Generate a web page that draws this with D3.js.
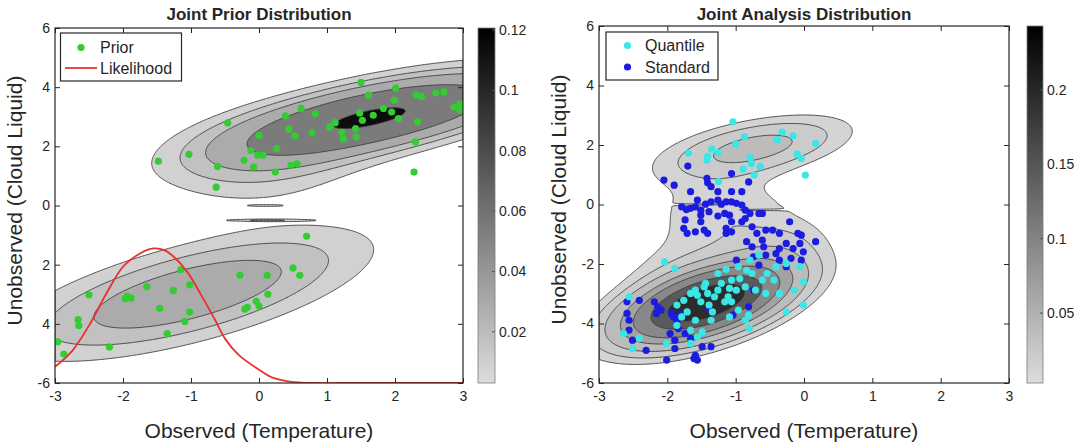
<!DOCTYPE html>
<html lang="en">
<head>
<meta charset="utf-8">
<title>Joint Prior / Analysis Distribution</title>
<style>
  body { margin: 0; background: #fff; }
  svg text { font-family: "Liberation Sans", Arial, sans-serif; fill: #262626; }
  .title { font-size: 17px; font-weight: bold; }
  .axis-label { font-size: 21px; }
  .tick text { font-size: 14px; fill: #262626; }
  .tick line { stroke: #262626; }
  .cb-label { font-size: 14px; }
  .legend-text { font-size: 16px; }
</style>
<script src="https://cdn.jsdelivr.net/npm/d3@7"></script>
</head>
<body>
<svg id="chart" width="1081" height="444"></svg>
<script>
// ---------- data ----------
var xTicks = [-3, -2, -1, 0, 1, 2, 3];
var yTicks = [-6, -4, -2, 0, 2, 4, 6];
var priorYTickLabels = ["-6", "4", "2", "0", "2", "4", "6"];   // minus signs missing in the original
var analysisYTickLabels = ["-6", "-4", "-2", "0", "2", "4", "6"];

// contour levels and colour-bar ranges
var priorLevels = [0.0088, 0.0174, 0.029, 0.055, 0.114];
var analysisLevels = [0.012, 0.022, 0.038, 0.065, 0.095, 0.145, 0.195];
var priorColorRange = [0.003, 0.1207];
var analysisColorRange = [0.003, 0.243];
var priorCbTicks = [0.02, 0.04, 0.06, 0.08, 0.1, 0.12];
var analysisCbTicks = [0.05, 0.1, 0.15, 0.2];

// density shape: gaussian bumps (centre, spread, correlation, peak height)
var priorBumps = [
  {mx: 1.7, my: 3.0, sx: 1.3, sy: 0.866, rho: 0.661, w: 0.12},
  {mx: 0.1, my: 1.5, sx: 1.0, sy: 1.0, rho: 0.25, w: 0.017},
  {mx: -1.05, my: -3.0, sx: 1.53, sy: 1.27, rho: 0.662, w: 0.0435},
  {mx: 0.1, my: -0.5, sx: 0.35, sy: 0.02, rho: 0, w: 0.0155},
  {mx: 0.1, my: 0.0, sx: 0.15, sy: 0.015, rho: 0, w: 0.0125}
];
var analysisBumps = [
  {mx: -1.43, my: -3.3, sx: 0.76, sy: 0.84, rho: 0.55, w: 0.255},
  {mx: -0.35, my: -1.3, sx: 0.5, sy: 0.6, rho: 0.3, w: 0.012},
  {mx: -2.0, my: -1.8, sx: 0.6, sy: 0.7, rho: 0.5, w: 0.009},
  {mx: -0.72, my: 1.91, sx: 0.87, sy: 0.67, rho: 0.5, w: 0.046},
  {mx: -1.15, my: -0.3, sx: 0.75, sy: 0.9, rho: 0.0, w: 0.02},
  {mx: -1.35, my: 0.0, sx: 0.35, sy: 0.02, rho: 0, w: -0.01},
  {mx: -0.8, my: -0.18, sx: 0.35, sy: 0.02, rho: 0, w: -0.01}
];

var priorPoints = [
  [-0.46,2.79],[-1.03,1.73],[-1.48,1.50],[-0.61,1.32],[-0.63,0.62],[-0.22,1.53],[-0.08,1.30],[-0.12,1.86],
  [0.00,2.37],[-0.02,1.70],[0.06,1.70],[0.24,1.13],[0.26,1.92],[0.39,3.03],[0.44,2.58],[0.53,2.35],
  [0.56,1.41],[0.47,1.36],[0.62,3.28],[0.78,2.46],[0.83,3.10],[1.04,2.65],[1.12,2.80],[1.22,2.47],
  [1.24,2.25],[1.43,2.32],[1.42,2.60],[1.48,3.12],[1.50,4.16],[1.61,3.73],[1.68,3.05],[1.52,2.88],
  [1.83,3.28],[1.95,3.16],[1.99,3.56],[2.01,3.97],[2.05,2.94],[2.31,3.74],[2.39,3.68],[2.33,2.83],
  [2.30,2.15],[2.28,1.13],[2.60,3.80],[2.72,3.84],[2.87,3.33],[2.96,3.44],[2.96,3.22],
  [0.70,-1.04],[0.50,-2.11],[0.60,-2.36],[0.12,-2.36],[-0.28,-2.36],[0.13,-3.00],[-0.04,-3.24],[0.00,-3.40],
  [-0.17,-3.44],[-0.21,-3.50],[-1.15,-2.17],[-1.02,-2.68],[-1.26,-2.87],[-1.65,-2.74],[-1.88,-3.13],[-1.94,-3.06],
  [-2.50,-3.02],[-1.46,-3.48],[-1.02,-3.60],[-1.09,-3.92],[-1.35,-4.33],[-2.20,-4.78],[-2.66,-3.86],[-2.65,-4.06],
  [-2.96,-4.61],[-2.87,-5.02],[-1.97,-3.15]
];

var likelihoodX = [-3, -2.75, -2.5, -2.25, -2, -1.75, -1.55, -1.4, -1.25, -1.05, -0.85, -0.65, -0.5, -0.3, 0, 0.2, 0.45, 0.8, 1.2, 2, 3];
var likelihoodY = [-5.45, -4.92, -4.06, -3.0, -2.07, -1.62, -1.45, -1.5, -1.74, -2.26, -3.03, -3.85, -4.5, -5.05, -5.55, -5.82, -5.95, -6.0, -6.0, -6.0, -6.0];

var quantilePoints = [
  [-1.04,2.78],[-0.87,2.28],[-1.00,2.04],[-1.26,1.74],[-1.41,1.62],[-1.69,1.73],[-1.42,1.49],[-1.25,0.77],
  [-0.79,1.58],[-0.77,1.38],[-0.89,1.19],[-0.64,1.27],[-0.73,0.99],[-0.39,2.18],[-0.32,2.43],[-0.16,2.31],
  [-0.10,1.69],[-0.04,1.55],[0.02,0.99],[0.17,2.05],[-1.35,1.86],
  [-2.04,-1.93],[-1.89,-2.15],[-2.56,-3.10],[-2.64,-4.34],[-2.51,-4.84],[-2.41,-4.50],[-2.01,-4.67],[-1.86,-3.38],
  [-1.76,-3.22],[-1.66,-2.99],[-1.59,-2.88],[-1.56,-3.05],[-1.51,-3.27],[-1.46,-2.77],[-1.41,-2.99],[-1.39,-3.38],
  [-1.34,-3.61],[-1.31,-3.10],[-1.26,-2.88],[-1.21,-2.65],[-1.16,-3.27],[-1.11,-3.10],[-1.09,-2.82],[-1.06,-2.54],
  [-1.06,-3.27],[-0.99,-2.88],[-0.96,-2.09],[-0.94,-2.49],[-0.86,-2.77],[-0.84,-2.21],[-0.79,-1.87],[-0.76,-2.32],
  [-0.71,-2.88],[-0.66,-1.70],[-0.61,-2.54],[-0.56,-2.99],[-0.54,-2.32],[-0.86,-3.89],[-0.80,-4.17],[-0.81,-3.72],
  [-0.96,-3.55],[-1.09,-3.78],[-1.36,-3.89],[-1.49,-4.28],[-1.56,-4.45],[-1.66,-4.67],[-1.59,-3.89],[-1.71,-3.61],
  [-1.86,-4.06],[-1.79,-3.78],[-1.66,-4.22],[-1.44,-2.65],[-1.26,-2.32],[-1.14,-2.18],[-0.26,-3.61],[-0.14,-2.88],
  [-0.01,-2.60],[-0.01,-3.38],[-0.06,-2.09],[-0.26,-1.98],[-0.41,-2.09],[-0.44,-2.54],[-0.36,-2.99]
];

var standardPoints = [
  [-2.05,0.82],[-1.90,0.65],[-1.70,1.29],[-1.42,0.88],[-1.41,0.73],[-1.36,0.60],[-1.26,0.43],[-1.06,1.04],
  [-1.06,0.43],[-0.91,0.43],[-0.81,0.76],[-1.66,0.43],[-1.79,-0.08],[-1.72,-0.17],[-1.66,-0.13],[-1.59,-0.08],
  [-1.56,0.15],[-1.51,-0.19],[-1.44,0.01],[-1.36,0.09],[-1.26,0.15],[-1.21,0.01],[-1.14,0.09],[-1.06,0.09],
  [-0.99,0.04],[-0.91,-0.02],[-0.86,-0.19],[-0.79,-0.30],[-0.66,-0.30],[-0.61,-0.30],[-1.74,-0.52],[-1.51,-0.36],
  [-1.39,-0.24],[-1.26,-0.39],[-1.16,-0.30],[-1.09,-0.36],[-1.06,-0.58],[-0.91,-0.58],[-0.86,-0.47],[-1.71,-0.97],
  [-1.51,-0.58],[-1.59,-0.92],[-1.46,-0.86],[-1.41,-0.97],[-1.14,-0.80],[-1.14,-0.97],[-1.06,-0.92],[-0.76,-0.75],
  [-0.69,-0.97],[-0.56,-0.86],[-0.46,-0.86],[-0.36,-0.97],[-0.21,-0.58],[-0.09,-0.97],[-0.04,-1.03],[-1.76,-0.80],
  [-0.84,-1.25],[-0.76,-1.42],[-0.61,-1.20],[-0.59,-1.42],[-0.36,-1.48],[-0.26,-1.31],[-0.16,-1.48],[-0.06,-1.31],
  [-0.01,-1.59],[0.17,-1.25],[-0.19,-1.81],[-0.04,-1.87],[-0.74,-1.76],[-0.66,-2.04],[-0.99,-1.87],[-0.56,-1.70],
  [-0.41,-1.65],[-0.26,-2.09],
  [-2.59,-3.27],[-2.41,-3.22],[-2.59,-3.66],[-2.56,-3.89],[-2.56,-4.22],[-2.51,-4.56],[-2.31,-4.90],[-2.01,-5.23],
  [-1.89,-4.84],[-1.89,-4.56],[-1.96,-4.34],[-2.19,-3.27],[-2.14,-3.44],[-2.09,-3.55],[-2.16,-3.66],[-1.94,-3.66],
  [-1.91,-3.78],[-1.81,-3.72],[-1.86,-3.94],[-1.84,-4.17],[-1.74,-4.34],[-1.66,-4.50],[-1.59,-5.07],[-1.56,-5.23],
  [-1.61,-5.18],[-1.49,-4.78],[-1.36,-4.78],[-1.39,-3.50],[-1.04,-3.72],[-0.81,-3.44],[-0.74,-2.88],[-0.36,-1.87]
];

// ---------- drawing ----------
var svg = d3.select("#chart");
var ink = "#262626";

// sample the density on a grid over the plotting window
function densityGrid(bumps, n, m) {
  var values = new Float64Array(n * m);
  for (var j = 0; j < m; j++) {
    var y = 6 - (j + 0.5) * 12 / m;
    for (var i = 0; i < n; i++) {
      var x = -3 + (i + 0.5) * 6 / n;
      var v = 0;
      bumps.forEach(function(c) {
        var dx = (x - c.mx) / c.sx, dy = (y - c.my) / c.sy;
        var q = (dx * dx - 2 * c.rho * dx * dy + dy * dy) / (1 - c.rho * c.rho);
        v += c.w * Math.exp(-q / 2);
      });
      values[j * n + i] = v;
    }
  }
  return values;
}

function drawPanel(p) {
  var x = d3.scaleLinear().domain([-3, 3]).range([p.left, p.right]);
  var y = d3.scaleLinear().domain([-6, 6]).range([p.bottom, p.top]);
  var color = d3.scaleLinear().domain(p.colorRange).range(["#dcdcdc", "#000000"]).clamp(true);

  var clipId = "clip-" + p.id;
  svg.append("clipPath").attr("id", clipId)
    .append("rect").attr("x", p.left).attr("y", p.top)
    .attr("width", p.right - p.left).attr("height", p.bottom - p.top);

  var g = svg.append("g").attr("clip-path", "url(#" + clipId + ")");

  // filled contours
  var n = 300, m = 600;
  var grid = densityGrid(p.bumps, n, m);
  var contours = d3.contours().size([n, m]).thresholds(p.levels)(grid);
  var path = d3.geoPath(d3.geoTransform({
    point: function(gx, gy) { this.stream.point(x(-3 + gx * 6 / n), y(6 - gy * 12 / m)); }
  }));
  g.selectAll("path.band")
    .data(contours)
    .enter().append("path")
      .attr("class", "band")
      .attr("d", path)
      .attr("fill", function(d) { return color(d.value); })
      .attr("stroke", "#3a3a3a")
      .attr("stroke-width", 0.9)
      .attr("stroke-linejoin", "round");

  if (p.drawMarks) p.drawMarks(g, x, y);

  // axes with inward ticks on all four sides
  var fmtY = function(d, i) { return p.yLabels[i]; };
  svg.append("g").attr("class", "axis")
    .attr("transform", "translate(0," + p.bottom + ")")
    .call(d3.axisBottom(x).tickValues(xTicks).tickSizeInner(-5).tickSizeOuter(0).tickPadding(8)
      .tickFormat(function(d) { return String(d); }));
  svg.append("g").attr("class", "axis")
    .attr("transform", "translate(0," + p.top + ")")
    .call(d3.axisTop(x).tickValues(xTicks).tickSizeInner(-5).tickSizeOuter(0).tickFormat(""));
  svg.append("g").attr("class", "axis")
    .attr("transform", "translate(" + p.left + ",0)")
    .call(d3.axisLeft(y).tickValues(yTicks).tickSizeInner(-5).tickSizeOuter(0).tickPadding(5).tickFormat(fmtY));
  svg.append("g").attr("class", "axis")
    .attr("transform", "translate(" + p.right + ",0)")
    .call(d3.axisRight(y).tickValues(yTicks).tickSizeInner(-5).tickSizeOuter(0).tickFormat(""));
  svg.selectAll(".axis .domain").remove();

  svg.append("rect")
    .attr("x", p.left).attr("y", p.top)
    .attr("width", p.right - p.left).attr("height", p.bottom - p.top)
    .attr("fill", "none").attr("stroke", ink).attr("stroke-width", 1.2);

  // title and axis labels
  svg.append("text").attr("class", "title")
    .attr("x", (p.left + p.right) / 2).attr("y", 20)
    .attr("text-anchor", "middle").text(p.title);
  svg.append("text").attr("class", "axis-label")
    .attr("x", (p.left + p.right) / 2).attr("y", 438)
    .attr("text-anchor", "middle").text("Observed (Temperature)");
  svg.append("text").attr("class", "axis-label")
    .attr("transform", "translate(" + (p.left - 33) + "," + ((p.top + p.bottom) / 2 - 5) + ") rotate(-90)")
    .attr("text-anchor", "middle").text("Unobserved (Cloud Liquid)");

  // colour bar
  var cb = svg.append("g");
  var cy = d3.scaleLinear().domain(p.colorRange).range([p.bottom, p.top]);
  var gradId = "grad-" + p.id;
  var grad = svg.append("defs").append("linearGradient").attr("id", gradId)
    .attr("x1", 0).attr("y1", 1).attr("x2", 0).attr("y2", 0);
  grad.append("stop").attr("offset", 0).attr("stop-color", color(p.colorRange[0]));
  grad.append("stop").attr("offset", 1).attr("stop-color", color(p.colorRange[1]));
  cb.append("rect")
    .attr("x", p.cbX).attr("y", p.top).attr("width", p.cbW).attr("height", p.bottom - p.top)
    .attr("fill", "url(#" + gradId + ")").attr("stroke", "#7a7a7a").attr("stroke-width", 0.8);
  cb.selectAll("line.cbtick").data(p.cbTicks).enter().append("line")
    .attr("x1", p.cbX + p.cbW - 3).attr("x2", p.cbX + p.cbW)
    .attr("y1", function(d) { return cy(d); }).attr("y2", function(d) { return cy(d); })
    .attr("stroke", "#555");
  cb.selectAll("text").data(p.cbTicks).enter().append("text")
    .attr("class", "cb-label")
    .attr("x", p.cbX + p.cbW + 4).attr("y", function(d) { return cy(d) + 5; })
    .text(function(d) { return d; });
}

function legendBox(x0, y0, w, h) {
  svg.append("rect").attr("x", x0).attr("y", y0).attr("width", w).attr("height", h)
    .attr("fill", "#fff").attr("stroke", ink).attr("stroke-width", 1.2);
}

// left panel: prior
drawPanel({
  id: "prior", title: "Joint Prior Distribution",
  left: 55, right: 463, top: 28, bottom: 383, cbX: 478, cbW: 17,
  levels: priorLevels, colorRange: priorColorRange, cbTicks: priorCbTicks,
  bumps: priorBumps, yLabels: priorYTickLabels,
  drawMarks: function(g, x, y) {
    g.selectAll("circle.prior").data(priorPoints).enter().append("circle")
      .attr("class", "prior")
      .attr("cx", function(d) { return x(d[0]); })
      .attr("cy", function(d) { return y(d[1]); })
      .attr("r", 3.6).attr("fill", "#33cc33");
    var line = d3.line()
      .x(function(d, i) { return x(likelihoodX[i]); })
      .y(function(d) { return y(d); })
      .curve(d3.curveCatmullRom.alpha(0.5));
    g.append("path").datum(likelihoodY)
      .attr("d", line).attr("fill", "none")
      .attr("stroke", "#e8312f").attr("stroke-width", 1.8);
  }
});

legendBox(60.5, 33, 121, 48);
svg.append("circle").attr("cx", 81).attr("cy", 47.5).attr("r", 3.6).attr("fill", "#33cc33");
svg.append("text").attr("class", "legend-text").attr("x", 100).attr("y", 53).text("Prior");
svg.append("line").attr("x1", 65).attr("x2", 97).attr("y1", 68).attr("y2", 68)
  .attr("stroke", "#e8312f").attr("stroke-width", 1.8);
svg.append("text").attr("class", "legend-text").attr("x", 100).attr("y", 74).text("Likelihood");

// right panel: analysis
drawPanel({
  id: "analysis", title: "Joint Analysis Distribution",
  left: 599, right: 1009, top: 26, bottom: 383, cbX: 1027, cbW: 16,
  levels: analysisLevels, colorRange: analysisColorRange, cbTicks: analysisCbTicks,
  bumps: analysisBumps, yLabels: analysisYTickLabels,
  drawMarks: function(g, x, y) {
    g.selectAll("circle.std").data(standardPoints).enter().append("circle")
      .attr("class", "std")
      .attr("cx", function(d) { return x(d[0]); })
      .attr("cy", function(d) { return y(d[1]); })
      .attr("r", 3.6).attr("fill", "#1c1ce0");
    g.selectAll("circle.qnt").data(quantilePoints).enter().append("circle")
      .attr("class", "qnt")
      .attr("cx", function(d) { return x(d[0]); })
      .attr("cy", function(d) { return y(d[1]); })
      .attr("r", 3.6).attr("fill", "#3ae6e6");
  }
});

legendBox(606, 32, 112, 48);
svg.append("circle").attr("cx", 627.5).attr("cy", 45.5).attr("r", 3.6).attr("fill", "#3ae6e6");
svg.append("text").attr("class", "legend-text").attr("x", 645).attr("y", 51).text("Quantile");
svg.append("circle").attr("cx", 627.5).attr("cy", 67).attr("r", 3.6).attr("fill", "#1c1ce0");
svg.append("text").attr("class", "legend-text").attr("x", 645).attr("y", 72.5).text("Standard");
</script>
</body>
</html>
